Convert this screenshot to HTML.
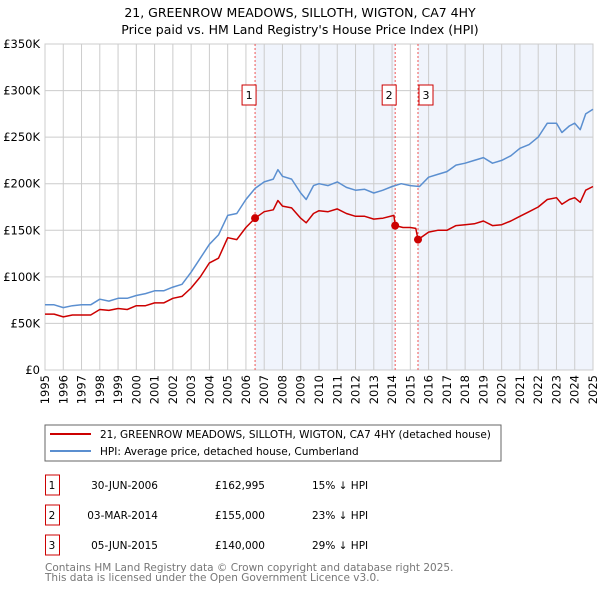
<!DOCTYPE html>
<html><head><meta charset="utf-8"><style>
body{margin:0;background:#fff;width:600px;height:590px;overflow:hidden;font-family:"DejaVu Sans","Liberation Sans",sans-serif}
svg text{font-family:"DejaVu Sans","Liberation Sans",sans-serif}
</style></head><body>
<svg id="c" width="600" height="590" xmlns="http://www.w3.org/2000/svg">
<text x="300" y="17" text-anchor="middle" font-size="12.5" fill="#000">21, GREENROW MEADOWS, SILLOTH, WIGTON, CA7 4HY</text>
<text x="300" y="34" text-anchor="middle" font-size="12.5" fill="#000">Price paid vs. HM Land Registry's House Price Index (HPI)</text>
<g id="plot"></g>
<rect x="45" y="425" width="456" height="36" fill="#fff" stroke="#666"/>
<line x1="50" y1="434" x2="91" y2="434" stroke="#cc0000" stroke-width="2"/>
<text x="100" y="438" font-size="10.5">21, GREENROW MEADOWS, SILLOTH, WIGTON, CA7 4HY (detached house)</text>
<line x1="50" y1="451" x2="91" y2="451" stroke="#5b8fd0" stroke-width="2"/>
<text x="100" y="455" font-size="10.5">HPI: Average price, detached house, Cumberland</text>
<g id="tbl"></g>
<text x="45" y="571" font-size="10.5" fill="#777">Contains HM Land Registry data © Crown copyright and database right 2025.</text>
<text x="45" y="581" font-size="10.5" fill="#777">This data is licensed under the Open Government Licence v3.0.</text>
</svg>
<script>
const hpiYears=[1995,1995.5,1996,1996.5,1997,1997.5,1998,1998.5,1999,1999.5,2000,2000.5,2001,2001.5,2002,2002.5,2003,2003.5,2004,2004.5,2005,2005.5,2006,2006.5,2007,2007.5,2007.75,2008,2008.5,2009,2009.3,2009.7,2010,2010.5,2011,2011.5,2012,2012.5,2013,2013.5,2014,2014.5,2015,2015.5,2016,2016.5,2017,2017.5,2018,2018.5,2019,2019.5,2020,2020.5,2021,2021.5,2022,2022.5,2023,2023.3,2023.7,2024,2024.3,2024.6,2025];
const hpiValues=[70,70,67,69,70,70,76,74,77,77,80,82,85,85,89,92,105,120,135,145,166,168,183,195,202,205,215,208,205,190,183,198,200,198,202,196,193,194,190,193,197,200,198,197,207,210,213,220,222,225,228,222,225,230,238,242,250,265,265,255,262,265,258,275,280];
const ppYears=[1995,1995.5,1996,1996.5,1997,1997.5,1998,1998.5,1999,1999.5,2000,2000.5,2001,2001.5,2002,2002.5,2003,2003.5,2004,2004.5,2005,2005.5,2006,2006.5,2007,2007.5,2007.75,2008,2008.5,2009,2009.3,2009.7,2010,2010.5,2011,2011.5,2012,2012.5,2013,2013.5,2014.1,2014.17,2014.6,2015,2015.3,2015.42,2016,2016.5,2017,2017.5,2018,2018.5,2019,2019.5,2020,2020.5,2021,2021.5,2022,2022.5,2023,2023.3,2023.7,2024,2024.3,2024.6,2025];
const ppValues=[60,60,57,59,59,59,65,64,66,65,69,69,72,72,77,79,88,100,115,120,142,140,153,163,170,172,182,176,174,163,158,168,171,170,173,168,165,165,162,163,166,155,153,153,152,140,148,150,150,155,156,157,160,155,156,160,165,170,175,183,185,178,183,185,180,193,197];
const saleYears=[2006.5,2014.17,2015.42];
const saleValues=[162.995,155,140];
const saleLabels=["1","2","3"];
const saleDates=["30-JUN-2006","03-MAR-2014","05-JUN-2015"];
const salePrices=["£162,995","£155,000","£140,000"];
const saleDiffs=["15% ↓ HPI","23% ↓ HPI","29% ↓ HPI"];
const yTicks=[0,50,100,150,200,250,300,350];
const yTickLabels=["£0","£50K","£100K","£150K","£200K","£250K","£300K","£350K"];
const xTicks=[1995,1996,1997,1998,1999,2000,2001,2002,2003,2004,2005,2006,2007,2008,2009,2010,2011,2012,2013,2014,2015,2016,2017,2018,2019,2020,2021,2022,2023,2024,2025];

const X0=45,X1=593,Y0=370,Y1=44;
const xs=y=>X0+(y-1995)/30*(X1-X0);
const ys=v=>Y0-v/350*(Y0-Y1);
const NS="http://www.w3.org/2000/svg";
const g=document.getElementById('plot');
function mk(t,a,p){const e=document.createElementNS(NS,t);for(const k in a)e.setAttribute(k,a[k]);(p||g).appendChild(e);return e;}

let r;
r=mk('rect',{x:xs(saleYears[0]),y:Y1,width:xs(saleYears[1])-xs(saleYears[0]),height:Y0-Y1,fill:'#f0f4fc'});


r=mk('rect',{x:xs(saleYears[2]),y:Y1,width:X1-xs(saleYears[2]),height:Y0-Y1,fill:'#f0f4fc'});



yTicks.forEach((v,i)=>{
 const l=mk('line',{x1:X0,x2:X1,y1:ys(v),y2:ys(v),stroke:'#ccc','stroke-width':1});
 
 
 const t=mk('text',{x:40,y:ys(v)+4,'text-anchor':'end','font-size':'11.5'});
 t.textContent=yTickLabels[i];
 
 
});
xTicks.forEach(yr=>{
 const l=mk('line',{x1:xs(yr),x2:xs(yr),y1:Y1,y2:Y0,stroke:'#ccc','stroke-width':1});
 
 
 const t=mk('text',{x:0,y:0,'text-anchor':'end','font-size':'11.5',transform:`translate(${xs(yr)+4},${Y0+5}) rotate(-90)`});
 t.textContent=yr;
 
 
});
r=mk('rect',{x:X0,y:Y1,width:X1-X0,height:Y0-Y1,fill:'none',stroke:'#ccc'});



saleYears.forEach((yr,i)=>{
 const l=mk('line',{x1:xs(yr),x2:xs(yr),y1:Y1,y2:Y0,stroke:'#ee5555','stroke-width':1,'stroke-dasharray':'2,2'});
 
 
});

function path(xa,va,col,name){
 const d=xa.map((x,i)=>(i?'L':'M')+xs(x).toFixed(1)+','+ys(va[i]).toFixed(1)).join('');
 const p=mk('path',{d:d,fill:'none',stroke:col,'stroke-width':1.5,'stroke-linejoin':'round'});
 
 
}
path(hpiYears,hpiValues,'#5b8fd0','hpi-line');
path(ppYears,ppValues,'#cc0000','price-paid-line');

saleYears.forEach((yr,i)=>{
 const c=mk('circle',{cx:xs(yr),cy:ys(saleValues[i]),r:4,fill:'#cc0000'});
 
 
 const bx=xs(yr)-(i===0?13:i===1?13:-1);
 const b=mk('rect',{x:bx,y:85,width:14,height:20,fill:'#fff',stroke:'#cc0000'});
 
 
 const t=mk('text',{x:bx+7,y:99,'text-anchor':'middle','font-size':'11'});
 t.textContent=saleLabels[i];
 
 
});

const tb=document.getElementById('tbl');
saleLabels.forEach((s,i)=>{
 const cy=483+i*30;
 const b=mk('rect',{x:45.5,y:cy-8,width:14,height:20,fill:'#fff',stroke:'#cc0000'},tb);
 
 
 const vals=[[s,52,'middle'],[saleDates[i],158,'end'],[salePrices[i],265,'end'],[saleDiffs[i],312,'start']];
 vals.forEach(v=>{
  const t=mk('text',{x:v[1],y:cy+6,'text-anchor':v[2],'font-size':'10.5'},tb);
  t.textContent=v[0];
  
  
 });
});
</script>
</body></html>
